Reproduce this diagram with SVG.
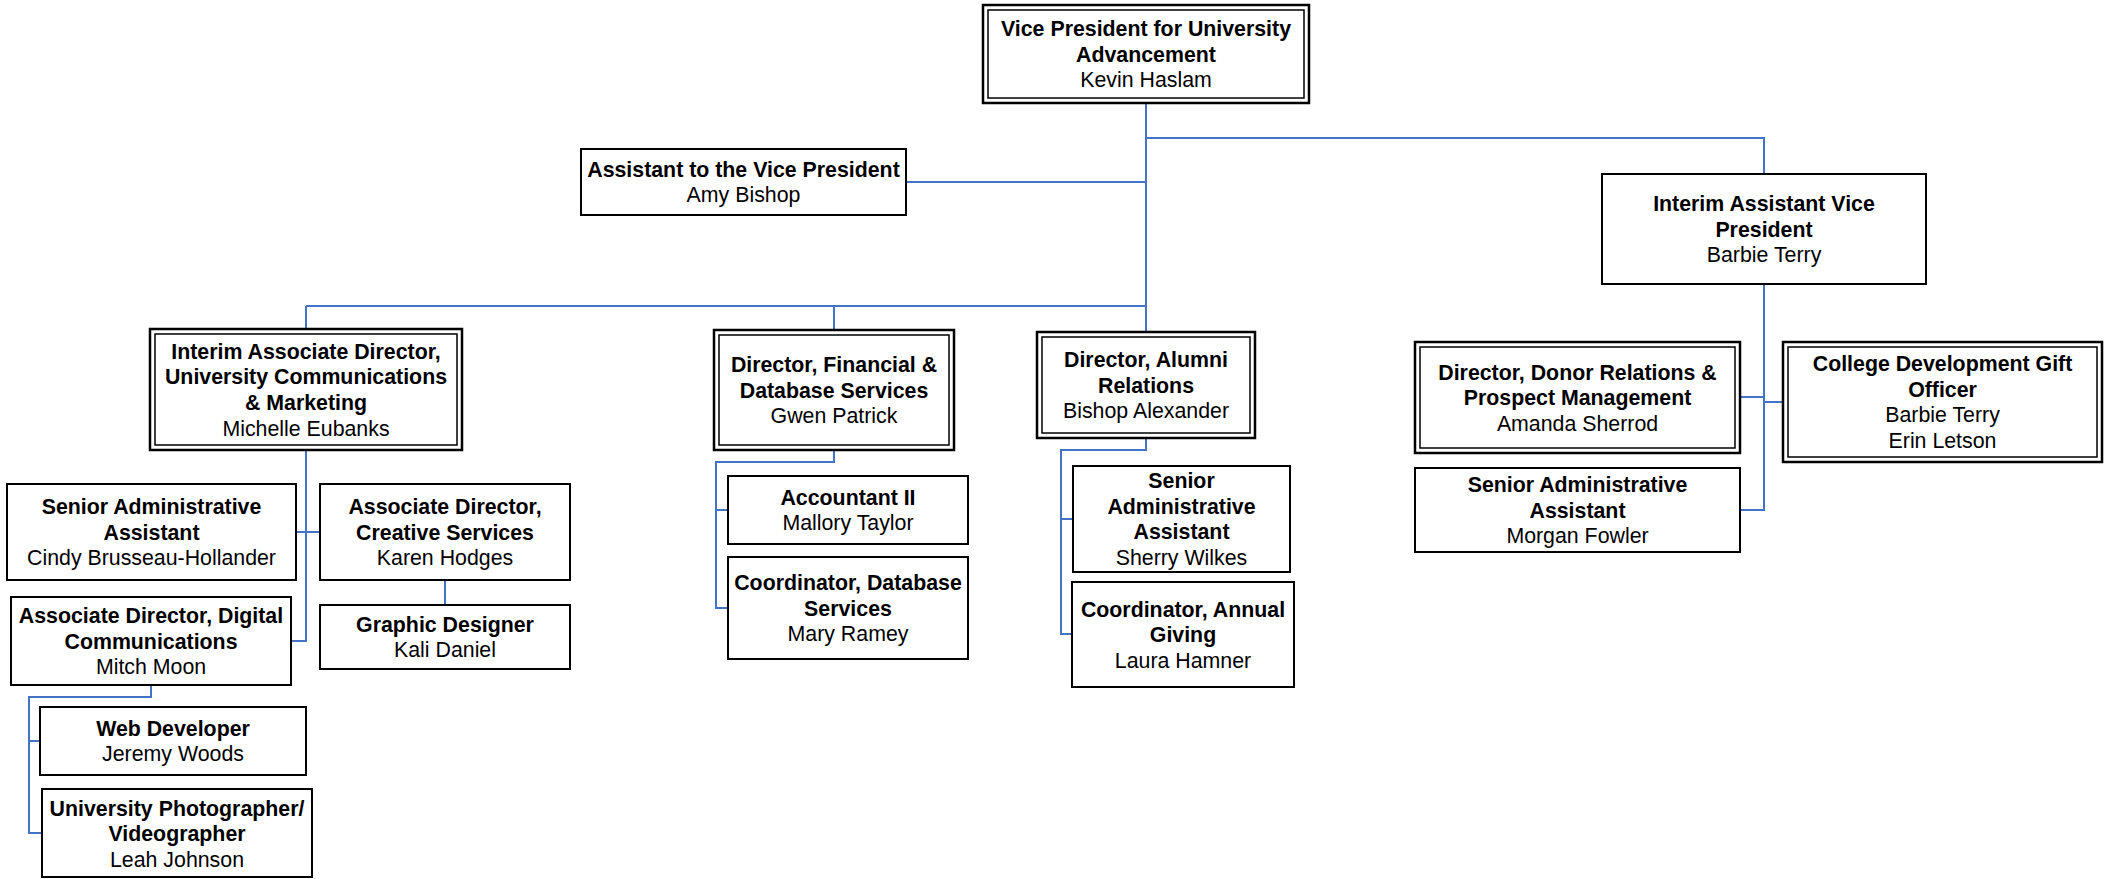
<svg xmlns="http://www.w3.org/2000/svg" width="2104" height="879" viewBox="0 0 2104 879">
<style>
.bg{fill:#fff}
.box{fill:#fff;stroke:#000;stroke-width:2}
.outer{fill:#fff;stroke:#000;stroke-width:2.5}
.inner{fill:none;stroke:#000;stroke-width:1.5}
.c{fill:none;stroke:#4472C4;stroke-width:2}
text{font-family:"Liberation Sans",Arial,sans-serif;font-size:21.33px;text-anchor:middle;fill:#000}
.b{font-weight:bold}
</style>
<rect class="bg" x="0" y="0" width="2104" height="879"/>
<g id="connectors">
<path class="c" d="M1146,103 V333"/>
<path class="c" d="M1146,138 H1764 V174"/>
<path class="c" d="M906,182 H1146"/>
<path class="c" d="M306,306 H1146"/>
<path class="c" d="M306,306 V329"/>
<path class="c" d="M834,306 V330"/>
<path class="c" d="M306,450 V641 H291"/>
<path class="c" d="M296,532 H320"/>
<path class="c" d="M445,580 V605"/>
<path class="c" d="M151,685 V697 H29 V833 H42"/>
<path class="c" d="M29,741 H40"/>
<path class="c" d="M834,450 V462 H716 V608 H728"/>
<path class="c" d="M716,510 H728"/>
<path class="c" d="M1146,438 V450 H1061 V634 H1072"/>
<path class="c" d="M1061,519 H1073"/>
<path class="c" d="M1764,284 V510 H1740"/>
<path class="c" d="M1740,397 H1764"/>
<path class="c" d="M1764,402 H1783"/>
</g>
<g id="vp">
<rect class="outer" x="983" y="5" width="326" height="98"/>
<rect class="inner" x="988" y="10" width="316" height="88"/>
<text><tspan class="b" x="1146" y="36">Vice President for University</tspan><tspan class="b" x="1146" y="61.6">Advancement</tspan><tspan x="1146" y="87.2">Kevin Haslam</tspan></text>
</g>
<g id="assistant-vp">
<rect class="box" x="581" y="149" width="325" height="66"/>
<text><tspan class="b" x="743.5" y="176.8">Assistant to the Vice President</tspan><tspan x="743.5" y="202.4">Amy Bishop</tspan></text>
</g>
<g id="interim-avp">
<rect class="box" x="1602" y="174" width="324" height="110"/>
<text><tspan class="b" x="1764" y="211">Interim Assistant Vice</tspan><tspan class="b" x="1764" y="236.6">President</tspan><tspan x="1764" y="262.2">Barbie Terry</tspan></text>
</g>
<g id="ucm">
<rect class="outer" x="150" y="329" width="312" height="121"/>
<rect class="inner" x="155" y="334" width="302" height="111"/>
<text><tspan class="b" x="306" y="358.7">Interim Associate Director,</tspan><tspan class="b" x="306" y="384.3">University Communications</tspan><tspan class="b" x="306" y="409.9">&amp; Marketing</tspan><tspan x="306" y="435.5">Michelle Eubanks</tspan></text>
</g>
<g id="financial">
<rect class="outer" x="714" y="330" width="240" height="120"/>
<rect class="inner" x="719" y="335" width="230" height="110"/>
<text><tspan class="b" x="834" y="372">Director, Financial &amp;</tspan><tspan class="b" x="834" y="397.6">Database Services</tspan><tspan x="834" y="423.2">Gwen Patrick</tspan></text>
</g>
<g id="alumni">
<rect class="outer" x="1037" y="332" width="218" height="106"/>
<rect class="inner" x="1042" y="337" width="208" height="96"/>
<text><tspan class="b" x="1146" y="367">Director, Alumni</tspan><tspan class="b" x="1146" y="392.6">Relations</tspan><tspan x="1146" y="418.2">Bishop Alexander</tspan></text>
</g>
<g id="donor">
<rect class="outer" x="1415" y="342" width="325" height="111"/>
<rect class="inner" x="1420" y="347" width="315" height="101"/>
<text><tspan class="b" x="1577.5" y="379.5">Director, Donor Relations &amp;</tspan><tspan class="b" x="1577.5" y="405.1">Prospect Management</tspan><tspan x="1577.5" y="430.7">Amanda Sherrod</tspan></text>
</g>
<g id="college">
<rect class="outer" x="1783" y="342" width="319" height="120"/>
<rect class="inner" x="1788" y="347" width="309" height="110"/>
<text><tspan class="b" x="1942.5" y="371.2">College Development Gift</tspan><tspan class="b" x="1942.5" y="396.8">Officer</tspan><tspan x="1942.5" y="422.4">Barbie Terry</tspan><tspan x="1942.5" y="448">Erin Letson</tspan></text>
</g>
<g id="morgan">
<rect class="box" x="1415" y="468" width="325" height="84"/>
<text><tspan class="b" x="1577.5" y="492">Senior Administrative</tspan><tspan class="b" x="1577.5" y="517.6">Assistant</tspan><tspan x="1577.5" y="543.2">Morgan Fowler</tspan></text>
</g>
<g id="cindy">
<rect class="box" x="7" y="484" width="289" height="96"/>
<text><tspan class="b" x="151.5" y="514">Senior Administrative</tspan><tspan class="b" x="151.5" y="539.6">Assistant</tspan><tspan x="151.5" y="565.2">Cindy Brusseau-Hollander</tspan></text>
</g>
<g id="creative">
<rect class="box" x="320" y="484" width="250" height="96"/>
<text><tspan class="b" x="445" y="514">Associate Director,</tspan><tspan class="b" x="445" y="539.6">Creative Services</tspan><tspan x="445" y="565.2">Karen Hodges</tspan></text>
</g>
<g id="graphic">
<rect class="box" x="320" y="605" width="250" height="64"/>
<text><tspan class="b" x="445" y="631.8">Graphic Designer</tspan><tspan x="445" y="657.4">Kali Daniel</tspan></text>
</g>
<g id="digital">
<rect class="box" x="11" y="597" width="280" height="88"/>
<text><tspan class="b" x="151" y="623">Associate Director, Digital</tspan><tspan class="b" x="151" y="648.6">Communications</tspan><tspan x="151" y="674.2">Mitch Moon</tspan></text>
</g>
<g id="webdev">
<rect class="box" x="40" y="707" width="266" height="68"/>
<text><tspan class="b" x="173" y="735.8">Web Developer</tspan><tspan x="173" y="761.4">Jeremy Woods</tspan></text>
</g>
<g id="photographer">
<rect class="box" x="42" y="789" width="270" height="88"/>
<text><tspan class="b" x="177" y="815.5">University Photographer/</tspan><tspan class="b" x="177" y="841.1">Videographer</tspan><tspan x="177" y="866.7">Leah Johnson</tspan></text>
</g>
<g id="accountant">
<rect class="box" x="728" y="476" width="240" height="68"/>
<text><tspan class="b" x="848" y="504.8">Accountant II</tspan><tspan x="848" y="530.4">Mallory Taylor</tspan></text>
</g>
<g id="coord-db">
<rect class="box" x="728" y="557" width="240" height="102"/>
<text><tspan class="b" x="848" y="590">Coordinator, Database</tspan><tspan class="b" x="848" y="615.6">Services</tspan><tspan x="848" y="641.2">Mary Ramey</tspan></text>
</g>
<g id="sherry">
<rect class="box" x="1073" y="466" width="217" height="106"/>
<text><tspan class="b" x="1181.5" y="488.2">Senior</tspan><tspan class="b" x="1181.5" y="513.8">Administrative</tspan><tspan class="b" x="1181.5" y="539.4">Assistant</tspan><tspan x="1181.5" y="565">Sherry Wilkes</tspan></text>
</g>
<g id="annual-giving">
<rect class="box" x="1072" y="582" width="222" height="105"/>
<text><tspan class="b" x="1183" y="616.5">Coordinator, Annual</tspan><tspan class="b" x="1183" y="642.1">Giving</tspan><tspan x="1183" y="667.7">Laura Hamner</tspan></text>
</g>
</svg>
